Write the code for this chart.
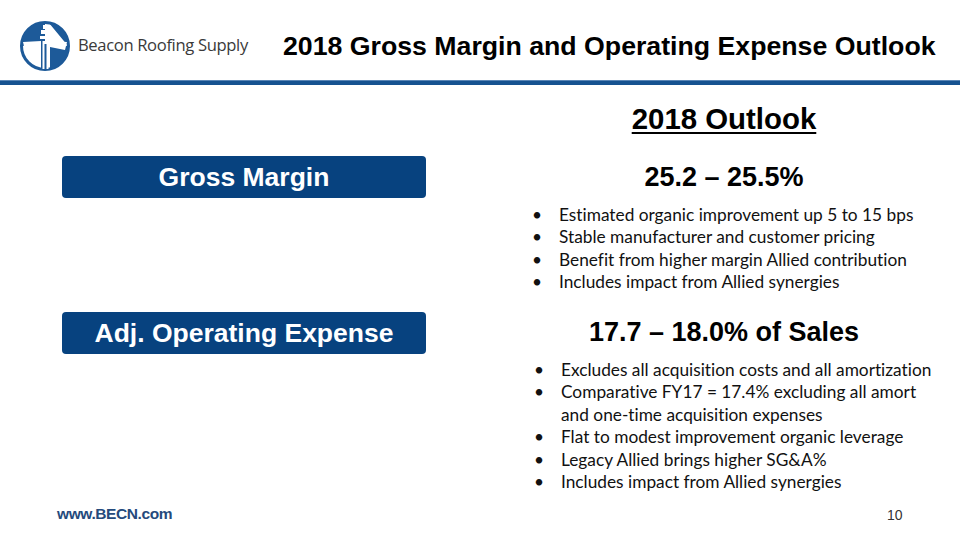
<!DOCTYPE html>
<html>
<head>
<meta charset="utf-8">
<script src="https://cdn.jsdelivr.net/npm/chart.js@4.4.1/dist/chart.umd.min.js"></script>
<style>
  html, body { margin: 0; padding: 0; background: #fff; }
  #slide { position: relative; width: 960px; height: 540px; overflow: hidden; font-family: "Liberation Sans", Arial, sans-serif; }
  .abs { position: absolute; white-space: nowrap; }
  #brand { left: 78px; top: 33px; font-family: "Open Sans", sans-serif; font-size: 16.6px; color: #3a3a3a; letter-spacing: -0.35px; }
  #title { left: 283px; top: 31px; font-weight: bold; font-size: 26.7px; color: #000; }
  #rule { position: absolute; left: 0; top: 80px; width: 960px; height: 5px; background: #165290; border-top: 1px solid #5a86b6; box-sizing: border-box; }
  #outlook { left: 524px; width: 400px; top: 102px; text-align: center; font-weight: bold; font-size: 29.4px; text-decoration: underline; text-decoration-thickness: 2px; text-underline-offset: 3px; }
  .box { position: absolute; left: 62px; width: 364px; height: 42px; background: #07427f; border-radius: 4px; color: #fff; font-weight: bold; font-size: 26.5px; text-align: center; line-height: 42px; }
  .range { position: absolute; left: 524px; width: 400px; text-align: center; font-weight: bold; font-size: 27px; color: #000; }
  ul.pts { position: absolute; margin: 0; padding: 0; list-style: none; font-family: Lato, sans-serif; font-size: 17.3px; color: #111; line-height: 22.4px; font-variant-ligatures: none; }
  ul.pts li { position: relative; padding-left: 26px; }
  ul.pts li::before { content: "\2022"; position: absolute; left: -1px; }
  #footer { left: 57px; top: 505px; font-size: 15.5px; font-weight: bold; color: #254a7c; letter-spacing: -0.4px; }
  #page { left: 887px; top: 507px; font-size: 14px; color: #333; }
  #logo { position: absolute; left: 19px; top: 20px; }
</style>
</head>
<body>
<div id="slide">
  <svg id="logo" width="52" height="52" viewBox="0 0 52 52">
    <circle cx="26" cy="26" r="23.5" fill="#fff" stroke="#1d5a99" stroke-width="3"/>
    <path d="M26 3 A23 23 0 0 0 3 26 L22 24 L22 49 A23 23 0 0 0 26 49 Z" fill="#1d5a99"/>
    <path d="M30 3 A23 23 0 0 1 49 26 L31 24 L31 49 A23 23 0 0 0 49 26 Z" fill="#1d5a99"/>
    <polygon points="4,22 22,21 22,27 6,30" fill="#fff"/>
    <polygon points="48,22 31,21 31,27 46,30" fill="#fff"/>
    <rect x="22" y="10" width="9" height="4" fill="#fff"/>
    <rect x="21" y="16" width="11" height="3" fill="#fff"/>
    <rect x="24" y="5" width="5" height="4" fill="#fff"/>
    <rect x="23.5" y="21" width="6" height="28" fill="#fff"/>
    <rect x="25.5" y="24" width="2" height="25" fill="#1d5a99"/>
  </svg>
  <div id="brand" class="abs"></div>
  <div id="title" class="abs"></div>
  <div id="rule"></div>
  <div id="outlook" class="abs"></div>
  <div id="sections"></div>
  <div id="footer" class="abs"></div>
  <div id="page" class="abs"></div>
</div>
<script>
const brandName = "Beacon Roofing Supply";
const slideTitle = "2018 Gross Margin and Operating Expense Outlook";
const outlookHeading = "2018 Outlook";
const metricLabels = ["Gross Margin", "Adj. Operating Expense"];
const rangeLow = [25.2, 17.7];
const rangeHigh = [25.5, 18.0];
const rangeSuffix = ["%", "% of Sales"];
const grossMarginPoints = [
  "Estimated organic improvement up 5 to 15 bps",
  "Stable manufacturer and customer pricing",
  "Benefit from higher margin Allied contribution",
  "Includes impact from Allied synergies"
];
const opexPoints = [
  "Excludes all acquisition costs and all amortization",
  "Comparative FY17 = 17.4% excluding all amort<br>and one-time acquisition expenses",
  "Flat to modest improvement organic leverage",
  "Legacy Allied brings higher SG&amp;A%",
  "Includes impact from Allied synergies"
];
const footerSite = "www.BECN.com";
const pageNumber = "10";

document.getElementById("brand").textContent = brandName;
document.getElementById("title").textContent = slideTitle;
document.getElementById("outlook").textContent = outlookHeading;
document.getElementById("footer").textContent = footerSite;
document.getElementById("page").textContent = pageNumber;

const layout = [
  { boxTop: 156, rangeTop: 162, listTop: 204, listLeft: 533 },
  { boxTop: 312, rangeTop: 317, listTop: 359, listLeft: 535 }
];
const pointLists = [grossMarginPoints, opexPoints];
const host = document.getElementById("sections");
metricLabels.forEach((label, i) => {
  const box = document.createElement("div");
  box.className = "box";
  box.style.top = layout[i].boxTop + "px";
  box.textContent = label;
  host.appendChild(box);

  const range = document.createElement("div");
  range.className = "range";
  range.style.top = layout[i].rangeTop + "px";
  range.textContent = rangeLow[i].toFixed(1) + " \u2013 " + rangeHigh[i].toFixed(1) + rangeSuffix[i];
  host.appendChild(range);

  const ul = document.createElement("ul");
  ul.className = "pts";
  ul.style.top = layout[i].listTop + "px";
  ul.style.left = layout[i].listLeft + "px";
  ul.innerHTML = pointLists[i].map(p => "<li>" + p + "</li>").join("");
  host.appendChild(ul);
});
</script>
</body>
</html>
